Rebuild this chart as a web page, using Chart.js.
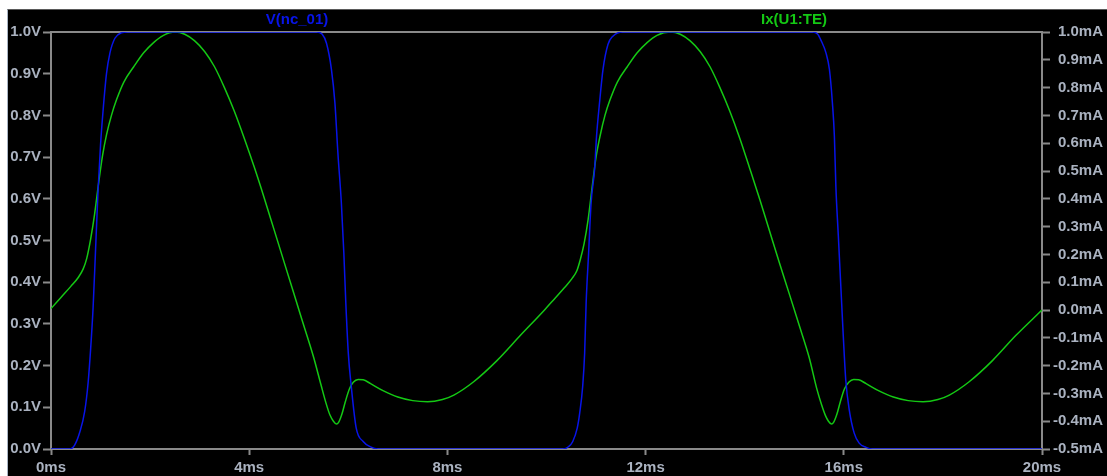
<!DOCTYPE html>
<html>
<head>
<meta charset="utf-8">
<script src="https://cdn.jsdelivr.net/npm/chart.js@4/dist/chart.umd.min.js"></script>
<style>
  html, body { margin: 0; padding: 0; background: #fff; }
  #wrap {
    position: absolute; left: 7px; top: 9px;
    width: 1099px; height: 466px;
    background: #000;
    border-top: 1px solid #5a5a5a;
    border-left: 1px solid #a8b4c4;
  }
  #plot { display: block; }
</style>
</head>
<body>
<div id="wrap"><canvas id="plot" width="1099" height="466"></canvas></div>
<script>
// V(nc_01), left axis (V), time in ms
const timeV = [0, 0.38, 0.48, 0.58, 0.68, 0.75, 0.80, 0.85, 0.90, 0.95, 1.00, 1.05, 1.12, 1.19, 1.29, 1.42, 1.55,
    5.36, 5.47, 5.56, 5.66, 5.73, 5.79, 5.86, 5.91, 5.95, 6.00, 6.06, 6.16, 6.30, 6.45, 6.60,
    10.33, 10.45, 10.53, 10.62, 10.67, 10.73, 10.77, 10.80, 10.85, 10.90, 10.97, 11.01, 11.07, 11.14, 11.24, 11.34, 11.54,
    15.37, 15.47, 15.54, 15.64, 15.71, 15.77, 15.81, 15.84, 15.89, 15.94, 15.99, 16.04, 16.11, 16.21, 16.31, 16.45, 16.58, 20];
const volts = [0, 0, 0.01, 0.04, 0.09, 0.16, 0.24, 0.34, 0.48, 0.62, 0.73, 0.81, 0.90, 0.95, 0.985, 0.998, 1.0,
    1.0, 0.995, 0.973, 0.91, 0.83, 0.71, 0.59, 0.47, 0.35, 0.23, 0.15, 0.05, 0.018, 0.005, 0,
    0, 0.006, 0.018, 0.05, 0.086, 0.15, 0.23, 0.35, 0.47, 0.59, 0.67, 0.75, 0.83, 0.91, 0.97, 0.99, 1.0,
    1.0, 0.995, 0.98, 0.95, 0.91, 0.83, 0.75, 0.63, 0.51, 0.39, 0.27, 0.165, 0.094, 0.038, 0.014, 0.004, 0, 0];

// Ix(U1:TE), right axis (mA)
const timeI = [0, 0.2, 0.4, 0.55, 0.65, 0.72, 0.80, 0.88, 0.96, 1.04, 1.12, 1.22, 1.32, 1.47, 1.67, 1.87, 2.07, 2.27, 2.5,
    2.7, 2.9, 3.1, 3.3, 3.5, 3.7, 3.9, 4.1, 4.3, 4.5, 4.7, 4.9, 5.1, 5.3, 5.45, 5.55, 5.63, 5.7, 5.76, 5.81, 5.87, 5.94,
    6.02, 6.1, 6.2, 6.3, 6.45, 6.7, 7.0, 7.3, 7.6, 7.9, 8.13, 8.53, 9.0, 9.47, 9.96,
    10.16, 10.36, 10.51, 10.61, 10.68, 10.76, 10.84, 10.92, 11.0, 11.08, 11.18, 11.28, 11.43, 11.63, 11.83, 12.03, 12.23, 12.5,
    12.7, 12.9, 13.1, 13.3, 13.5, 13.7, 13.9, 14.1, 14.3, 14.5, 14.7, 14.9, 15.1, 15.3, 15.45, 15.55, 15.63, 15.69, 15.75, 15.8,
    15.86, 15.93, 16.01, 16.1, 16.2, 16.3, 16.45, 16.7, 17.0, 17.3, 17.6, 17.9, 18.13, 18.53, 19.0, 19.47, 20];
const current = [0.005, 0.045, 0.085, 0.117, 0.148, 0.185, 0.255, 0.345, 0.455, 0.555, 0.63, 0.70, 0.755, 0.82, 0.875, 0.925, 0.962, 0.988, 1.0,
    0.992, 0.968, 0.93, 0.875, 0.80, 0.715, 0.618, 0.515, 0.405, 0.29, 0.175, 0.06, -0.055, -0.17, -0.27, -0.335, -0.378, -0.4, -0.41, -0.402, -0.375, -0.33,
    -0.285, -0.26, -0.25, -0.251, -0.265, -0.29, -0.313, -0.326, -0.33, -0.322, -0.306, -0.258, -0.182, -0.092, 0.0,
    0.04, 0.08, 0.112, 0.14, 0.18, 0.24, 0.325, 0.44, 0.55, 0.625, 0.70, 0.755, 0.82, 0.875, 0.925, 0.962, 0.988, 1.0,
    0.992, 0.968, 0.93, 0.875, 0.80, 0.715, 0.618, 0.51, 0.40, 0.285, 0.17, 0.058, -0.055, -0.17, -0.28, -0.34, -0.38, -0.4, -0.41, -0.402,
    -0.375, -0.33, -0.285, -0.26, -0.25, -0.251, -0.265, -0.29, -0.313, -0.326, -0.33, -0.322, -0.306, -0.258, -0.182, -0.092, 0.0];

const traceNames = ['V(nc_01)', 'Ix(U1:TE)'];
const traceColors = ['#0814e8', '#14c814'];

const axisGray = '#8a8a8a';
const labelColor = '#aab2c0';
const tickFont = { family: "'Liberation Sans', Arial, sans-serif", size: 15, weight: 'bold' };

const fmt = (v, unit) => (Math.abs(v) < 1e-9 ? 0 : v).toFixed(1) + unit;

// frame around the plot + trace names on top
const framePlugin = {
    id: 'frame',
    beforeDatasetsDraw(chart) {
        const { ctx, chartArea: a } = chart;
        ctx.save();
        ctx.strokeStyle = axisGray;
        ctx.lineWidth = 2;
        ctx.strokeRect(a.left, a.top, a.right - a.left, a.bottom - a.top);
        ctx.restore();
    },
    afterDraw(chart) {
        const ctx = chart.ctx;
        ctx.save();
        ctx.font = "bold 15px 'Liberation Sans', Arial, sans-serif";
        ctx.textAlign = 'center';
        ctx.textBaseline = 'middle';
        ctx.fillStyle = traceColors[0];
        ctx.fillText(traceNames[0], 289, 10);
        ctx.fillStyle = traceColors[1];
        ctx.fillText(traceNames[1], 786, 10);
        ctx.restore();
    }
};

new Chart(document.getElementById('plot'), {
    type: 'line',
    data: {
        datasets: [{
            label: traceNames[0],
            data: timeV.map((t, i) => ({ x: t, y: volts[i] })),
            borderColor: traceColors[0],
            borderWidth: 1.5,
            borderJoinStyle: 'round',
            pointRadius: 0,
            cubicInterpolationMode: 'monotone',
            yAxisID: 'yV'
        }, {
            label: traceNames[1],
            data: timeI.map((t, i) => ({ x: t, y: current[i] })),
            borderColor: traceColors[1],
            borderWidth: 1.5,
            borderJoinStyle: 'round',
            pointRadius: 0,
            cubicInterpolationMode: 'monotone',
            yAxisID: 'yI'
        }]
    },
    options: {
        responsive: false,
        animation: false,
        events: [],
        layout: { padding: { left: 0, right: 4, top: 22, bottom: 0 } },
        plugins: { legend: { display: false }, tooltip: { enabled: false } },
        scales: {
            x: {
                type: 'linear', min: 0, max: 20,
                afterFit: s => { s.height = 27; },
                border: { display: false },
                grid: { drawOnChartArea: false, drawTicks: true, tickLength: 6, tickColor: axisGray, tickWidth: 2 },
                ticks: { stepSize: 4, maxRotation: 0, padding: 4, color: labelColor, font: tickFont,
                    callback: v => v + 'ms' }
            },
            yV: {
                type: 'linear', position: 'left', min: 0, max: 1,
                afterFit: s => { s.width = 43; },
                border: { display: false },
                grid: { drawOnChartArea: false, drawTicks: true, tickLength: 8, tickColor: axisGray, tickWidth: 2 },
                ticks: { stepSize: 0.1, padding: 2, color: labelColor, font: tickFont,
                    callback: v => fmt(v, 'V') }
            },
            yI: {
                type: 'linear', position: 'right', min: -0.5, max: 1,
                afterFit: s => { s.width = 61; },
                border: { display: false },
                grid: { drawOnChartArea: false, drawTicks: true, tickLength: 8, tickColor: axisGray, tickWidth: 2 },
                ticks: { stepSize: 0.1, padding: 6, crossAlign: 'far', color: labelColor, font: tickFont,
                    callback: v => fmt(v, 'mA') }
            }
        }
    },
    plugins: [framePlugin]
});
</script>
</body>
</html>
